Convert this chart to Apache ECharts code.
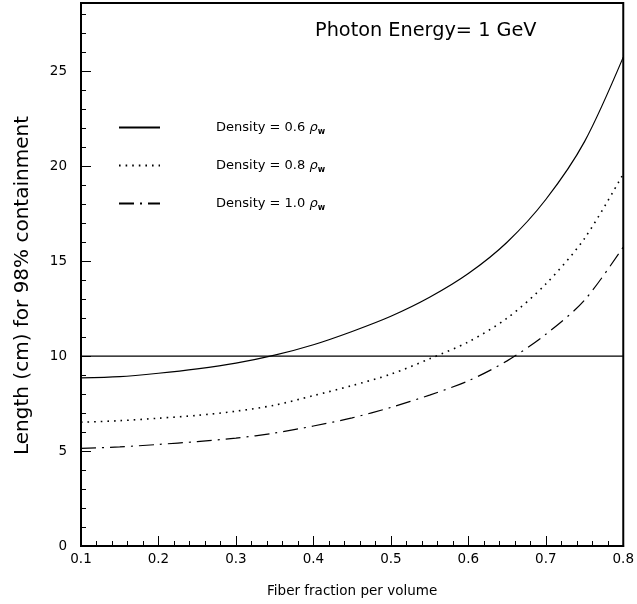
<!DOCTYPE html>
<html>
<head>
<meta charset="utf-8">
<script src="https://cdn.jsdelivr.net/npm/echarts@6/dist/echarts.min.js"></script>
<style>html,body{margin:0;padding:0;background:#fff}#c{width:637px;height:604px}</style>
</head>
<body>
<div id="c"></div>
<script>
var fiberFraction = [0.10,0.15,0.20,0.25,0.30,0.35,0.40,0.45,0.50,0.55,0.60,0.65,0.70,0.75,0.80];
var density06 = [8.85,8.92,9.10,9.33,9.63,10.05,10.6,11.3,12.1,13.1,14.35,16.0,18.25,21.3,25.75];
var density08 = [6.52,6.60,6.73,6.88,7.10,7.42,7.92,8.45,9.05,9.86,10.75,12.0,13.8,16.2,19.6];
var density10 = [5.14,5.22,5.35,5.50,5.68,5.95,6.32,6.75,7.30,7.95,8.70,9.75,11.15,12.95,15.75];
var refLineX = [0.1, 0.8];
var refLineY = [10, 10];
var densityLabels = ['0.6','0.8','1.0'];
var seriesNames = densityLabels.map(function(d){return 'Density = ' + d + ' ρw';});

function pairs(xs, ys){ return xs.map(function(x,i){return [x, ys[i]];}); }

var chart = echarts.init(document.getElementById('c'), null, {renderer:'canvas'});
var lw = 1.2;
chart.setOption({
  animation:false,
  backgroundColor:'#fff',
  title:{
    text:'Photon Energy= 1 GeV',
    left:310, top:16,
    textStyle:{fontFamily:'DejaVu Sans', fontWeight:'normal', fontSize:19.3, color:'#000'}
  },
  legend:{
    orient:'vertical',
    left:118, top:121, padding:0,
    itemWidth:41, itemHeight:14, itemGap:23.5,
    data:seriesNames,
    itemStyle:{opacity:0},
    formatter:function(n){
      var m = n.match(/= ([0-9.]+)/);
      return '{s|}{t|Density = ' + m[1] + ' }{r|ρ}{w|w}';
    },
    textStyle:{
      rich:{
        s:{width:51, lineHeight:16},
        t:{fontFamily:'DejaVu Sans', fontSize:13, color:'#000', lineHeight:16},
        r:{fontFamily:'DejaVu Sans', fontSize:13, fontStyle:'italic', color:'#000', lineHeight:16},
        w:{fontFamily:'DejaVu Sans', fontSize:8, fontWeight:'bold', color:'#000', lineHeight:16, verticalAlign:'bottom', padding:[5,0,0,0]}
      }
    }
  },
  grid:{left:81, right:13, top:3, bottom:58, show:true, borderColor:'#000', borderWidth:2, backgroundColor:'transparent'},
  xAxis:{
    type:'value', min:0.1, max:0.8, interval:0.1,
    name:'Fiber fraction per volume', nameLocation:'middle', nameGap:38,
    nameTextStyle:{fontFamily:'DejaVu Sans', fontSize:13.5, color:'#000'},
    axisLine:{show:true, onZero:false, lineStyle:{color:'#000', width:2}},
    axisTick:{show:true, inside:true, length:10, lineStyle:{color:'#000', width:1}},
    minorTick:{show:true, splitNumber:5, length:5, lineStyle:{color:'#000', width:1}},
    splitLine:{show:false},
    axisLabel:{margin:6, fontFamily:'DejaVu Sans', fontSize:13.5, color:'#000',
      formatter:function(v){return v.toFixed(1);},
      showMinLabel:true, showMaxLabel:true}
  },
  yAxis:{
    type:'value', min:0, max:28.6, interval:5,
    name:'Length (cm) for 98% containment', nameLocation:'middle', nameGap:48,
    nameTextStyle:{fontFamily:'DejaVu Sans', fontSize:20, color:'#000', padding:[0,22,0,0]},
    axisLine:{show:true, onZero:false, lineStyle:{color:'#000', width:2}},
    axisTick:{show:true, inside:true, length:10, lineStyle:{color:'#000', width:1}},
    minorTick:{show:true, splitNumber:5, length:5, lineStyle:{color:'#000', width:1}},
    splitLine:{show:false},
    axisLabel:{margin:14, fontFamily:'DejaVu Sans', fontSize:13.5, color:'#000', showMaxLabel:false}
  },
  series:[
    {name:seriesNames[0], type:'line', data:pairs(fiberFraction,density06), smooth:0.3, symbol:'none',
      lineStyle:{color:'#000', width:lw, type:'solid'}, itemStyle:{color:'#000'}},
    {name:seriesNames[1], type:'line', data:pairs(fiberFraction,density08), smooth:0.3, symbol:'none',
      lineStyle:{color:'#000', width:1.6, type:[1.6,5]}, itemStyle:{color:'#000'}},
    {name:seriesNames[2], type:'line', data:pairs(fiberFraction,density10), smooth:0.3, symbol:'none',
      lineStyle:{color:'#000', width:lw, type:[15,6,2,6]}, itemStyle:{color:'#000'}},
    {name:'ref', type:'line', data:pairs(refLineX,refLineY), symbol:'none',
      lineStyle:{color:'#000', width:lw}, itemStyle:{color:'#000'}}
  ]
});
</script>
</body>
</html>
